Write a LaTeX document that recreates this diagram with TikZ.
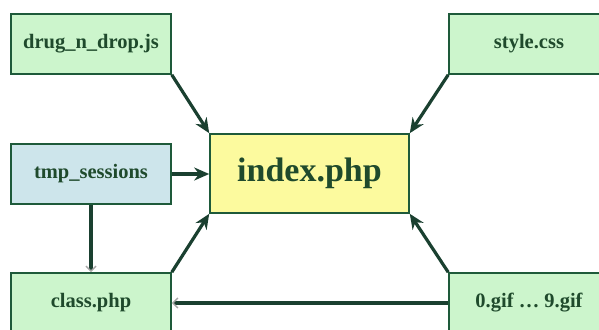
\documentclass[tikz,border=0pt]{standalone}
\usepackage{fontspec}
\setmainfont{Liberation Serif}
\usetikzlibrary{arrows.meta}
\definecolor{boxgreen}{HTML}{CCF5CC}
\definecolor{boxblue}{HTML}{CDE5EB}
\definecolor{boxyellow}{HTML}{FCFA9E}
\definecolor{edge}{HTML}{1E5A3A}
\definecolor{txt}{HTML}{1F4A2C}
\definecolor{arr}{HTML}{1A4030}
\tikzset{
  x=1pt,y=-1pt,
  filebox/.style={draw=edge, line width=1.6pt, fill=boxgreen, minimum width=160pt, minimum height=60pt, inner sep=0pt, text=txt, font=\bfseries\fontsize{20.5}{24}\selectfont},
  sessbox/.style={filebox, fill=boxblue},
  mainbox/.style={draw=edge, line width=1.6pt, fill=boxyellow, minimum width=199pt, minimum height=79pt, inner sep=0pt, text=txt, font=\bfseries\fontsize{34}{40}\selectfont},
  link/.style={draw=arr, line width=3.2pt, -{Stealth[length=15pt,width=13pt]}},
  faint/.style={draw=arr, line width=3.2pt, -{Straight Barb[length=5pt,width=10pt,line width=1.5pt,color=gray!70]}}
}
\begin{document}
\begin{tikzpicture}
\path[use as bounding box, clip] (0,0) rectangle (599,329);
\fill[white] (0,0) rectangle (599,329);
\node[filebox] (drug) at (91,44) {drug\_n\_drop.js};
\node[filebox] (style) at (529,44) {style.css};
\node[sessbox] (tmp) at (91,174) {tmp\_sessions};
\node[mainbox] (index) at (309.5,173.5) {index.php};
\node[filebox] (class) at (91,303) {class.php};
\node[filebox] (gif) at (529,303) {0.gif … 9.gif};
\draw[link] (drug.south east) -- (index.north west);
\draw[link] (style.south west) -- (index.north east);
\draw[link] (tmp.east) -- (index.west |- tmp.east);
\draw[link] (class.north east) -- (index.south west);
\draw[link] (gif.north west) -- (index.south east);
\draw[faint] (tmp.south) -- (class.north);
\draw[faint] (gif.west) -- (class.east);
\end{tikzpicture}
\end{document}
